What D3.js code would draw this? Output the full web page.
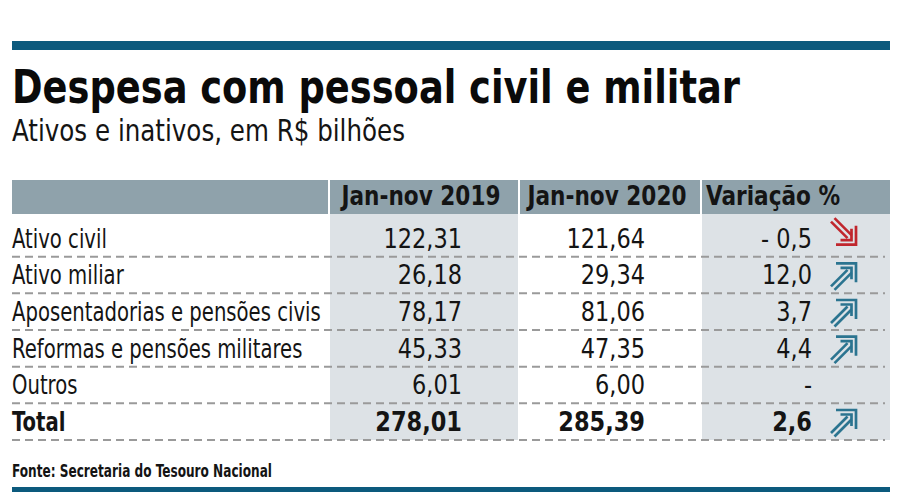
<!DOCTYPE html>
<html><head><meta charset="utf-8">
<script src="https://cdn.jsdelivr.net/npm/d3@7/dist/d3.min.js"></script>
<style>
html,body{margin:0;padding:0;background:#fff;}
svg{display:block;}
</style></head>
<body>
<svg id="c" width="900" height="503"></svg>
<script>
// ---- data ----
const title = "Despesa com pessoal civil e militar";
const subtitle = "Ativos e inativos, em R$ bilhões";
const columns = ["", "Jan-nov 2019", "Jan-nov 2020", "Variação %"];
const categories = ["Ativo civil", "Ativo miliar", "Aposentadorias e pensões civis",
  "Reformas e pensões militares", "Outros", "Total"];
const values2019 = [122.31, 26.18, 78.17, 45.33, 6.01, 278.01];
const values2020 = [121.64, 29.34, 81.06, 47.35, 6.00, 285.39];
const variation = [-0.5, 12.0, 3.7, 4.4, null, 2.6];
const source = "Fonte: Secretaria do Tesouro Nacional";

// ---- render ----
const svg = d3.select("#c");
const BODY = "'Liberation Sans Narrow','DejaVu Sans Condensed',sans-serif";
const HEAVY = "'DejaVu Sans Condensed','DejaVu Sans',sans-serif";
const TXT = "#141414";
const locale = d3.formatLocale({decimal: ",", thousands: ".", grouping: [3], currency: ["R$", ""]});
const f2 = locale.format(".2f"), f1 = locale.format(".1f");
const fmtVar = v => v == null ? "-" : (v < 0 ? "- " + f1(-v) : f1(v));

function fit(sel, w) {
  const n = sel.node().getComputedTextLength();
  if (Math.abs(n - w) > 1) sel.attr("textLength", w).attr("lengthAdjust", "spacingAndGlyphs");
  return sel;
}
function squeeze(sel, k) {
  sel.each(function () {
    const n = this.getComputedTextLength();
    d3.select(this).attr("textLength", n * k).attr("lengthAdjust", "spacingAndGlyphs");
  });
  return sel;
}

// top / bottom bars
svg.append("rect").attr("x", 12).attr("y", 41).attr("width", 878).attr("height", 9).attr("fill", "#0c5a7d");
svg.append("rect").attr("x", 12).attr("y", 487).attr("width", 878).attr("height", 5).attr("fill", "#0c5a7d");

fit(svg.append("text").attr("x", 12).attr("y", 103).attr("font-family", HEAVY).attr("font-weight", 700)
  .attr("font-size", 46).attr("fill", "#0a0a0a").text(title), 728);
fit(svg.append("text").attr("x", 12).attr("y", 141).attr("font-family", BODY)
  .attr("font-size", 30).attr("fill", TXT).text(subtitle), 393);

// column layout
const colX = d3.scaleOrdinal().domain(columns).range([12, 330, 520, 702]);
const colW = d3.scaleOrdinal().domain(columns).range([316, 188, 180, 188]);

// header
const headTop = 180, headH = 34;
columns.forEach(c => {
  svg.append("rect").attr("x", colX(c)).attr("y", headTop).attr("width", colW(c)).attr("height", headH).attr("fill", "#8fa2ab");
});
const hdrAnchor = {"Jan-nov 2019": "middle", "Jan-nov 2020": "middle", "Variação %": "start"};
columns.slice(1).forEach(c => {
  const x = hdrAnchor[c] === "middle" ? colX(c) + colW(c) / 2 - 3 : colX(c) + 4;
  squeeze(svg.append("text").attr("x", x).attr("y", 205).attr("text-anchor", hdrAnchor[c])
    .attr("font-family", BODY).attr("font-weight", 700).attr("font-size", 27).attr("fill", TXT).text(c), 0.89);
});

// body
const y = d3.scaleBand().domain(categories).range([220, 440]);
const bodyTop = headTop + headH;
[columns[1], columns[3]].forEach(c => {
  svg.append("rect").attr("x", colX(c)).attr("y", bodyTop).attr("width", colW(c)).attr("height", 440 - bodyTop).attr("fill", "#dde2e6");
});

const rows = svg.selectAll("g.row").data(categories).join("g").attr("class", "row")
  .attr("transform", d => `translate(0,${y(d) + y.bandwidth()})`);

rows.append("line").attr("x1", 12).attr("x2", 885).attr("y1", 0).attr("y2", 0)
  .attr("stroke", "#9a9a9a").attr("stroke-width", 2).attr("stroke-dasharray", "8,5");

const isTot = (d) => d === "Total";
squeeze(rows.append("text").attr("x", 12).attr("y", -9).attr("font-family", BODY)
  .attr("font-weight", d => isTot(d) ? 700 : 400).attr("font-size", 26).attr("fill", TXT).text(d => d), 0.84);
squeeze(rows.append("text").attr("x", colX(columns[1]) + colW(columns[1]) - 56).attr("y", -9).attr("text-anchor", "end")
  .attr("font-family", BODY).attr("font-weight", d => isTot(d) ? 700 : 400).attr("font-size", 26).attr("fill", TXT)
  .text((d, i) => f2(values2019[i])), 0.96);
squeeze(rows.append("text").attr("x", colX(columns[2]) + colW(columns[2]) - 55).attr("y", -9).attr("text-anchor", "end")
  .attr("font-family", BODY).attr("font-weight", d => isTot(d) ? 700 : 400).attr("font-size", 26).attr("fill", TXT)
  .text((d, i) => f2(values2020[i])), 0.96);
squeeze(rows.append("text").attr("x", (d, i) => variation[i] == null ? colX(columns[3]) + 106 : colX(columns[3]) + 110)
  .attr("y", -9).attr("text-anchor", (d, i) => variation[i] == null ? "middle" : "end")
  .attr("font-family", BODY).attr("font-weight", d => isTot(d) ? 700 : 400).attr("font-size", 26).attr("fill", TXT)
  .text((d, i) => fmtVar(variation[i])), 0.96);

// arrows (double-shaft arrow glyphs)
rows.each(function (d, i) {
  const v = variation[i];
  if (v == null) return;
  const up = v > 0;
  const col = up ? "#2b7490" : "#c0262d";
  const cy = -18.5;
  const tr = up ? `translate(${colX(columns[3]) + 129},${cy - 12.5})`
                : `translate(${colX(columns[3]) + 129},${cy + 7.5}) scale(1,-1)`;
  const g = d3.select(this).append("g").attr("transform", tr)
    .attr("fill", "none").attr("stroke", col).attr("stroke-width", 2.7).attr("stroke-linecap", "butt");
  g.append("path").attr("d", "M5,1 L25,1 L25,20");
  g.append("path").attr("d", "M9.5,5.5 L20.5,5.5 L20.5,17");
  g.append("path").attr("d", "M0,24 L16.5,7.5");
  g.append("path").attr("d", "M3.5,27.5 L20.5,10.5");
});

fit(svg.append("text").attr("x", 12).attr("y", 477).attr("font-family", BODY).attr("font-weight", 700)
  .attr("font-size", 18).attr("fill", TXT).text(source), 260);
</script>
</body></html>
